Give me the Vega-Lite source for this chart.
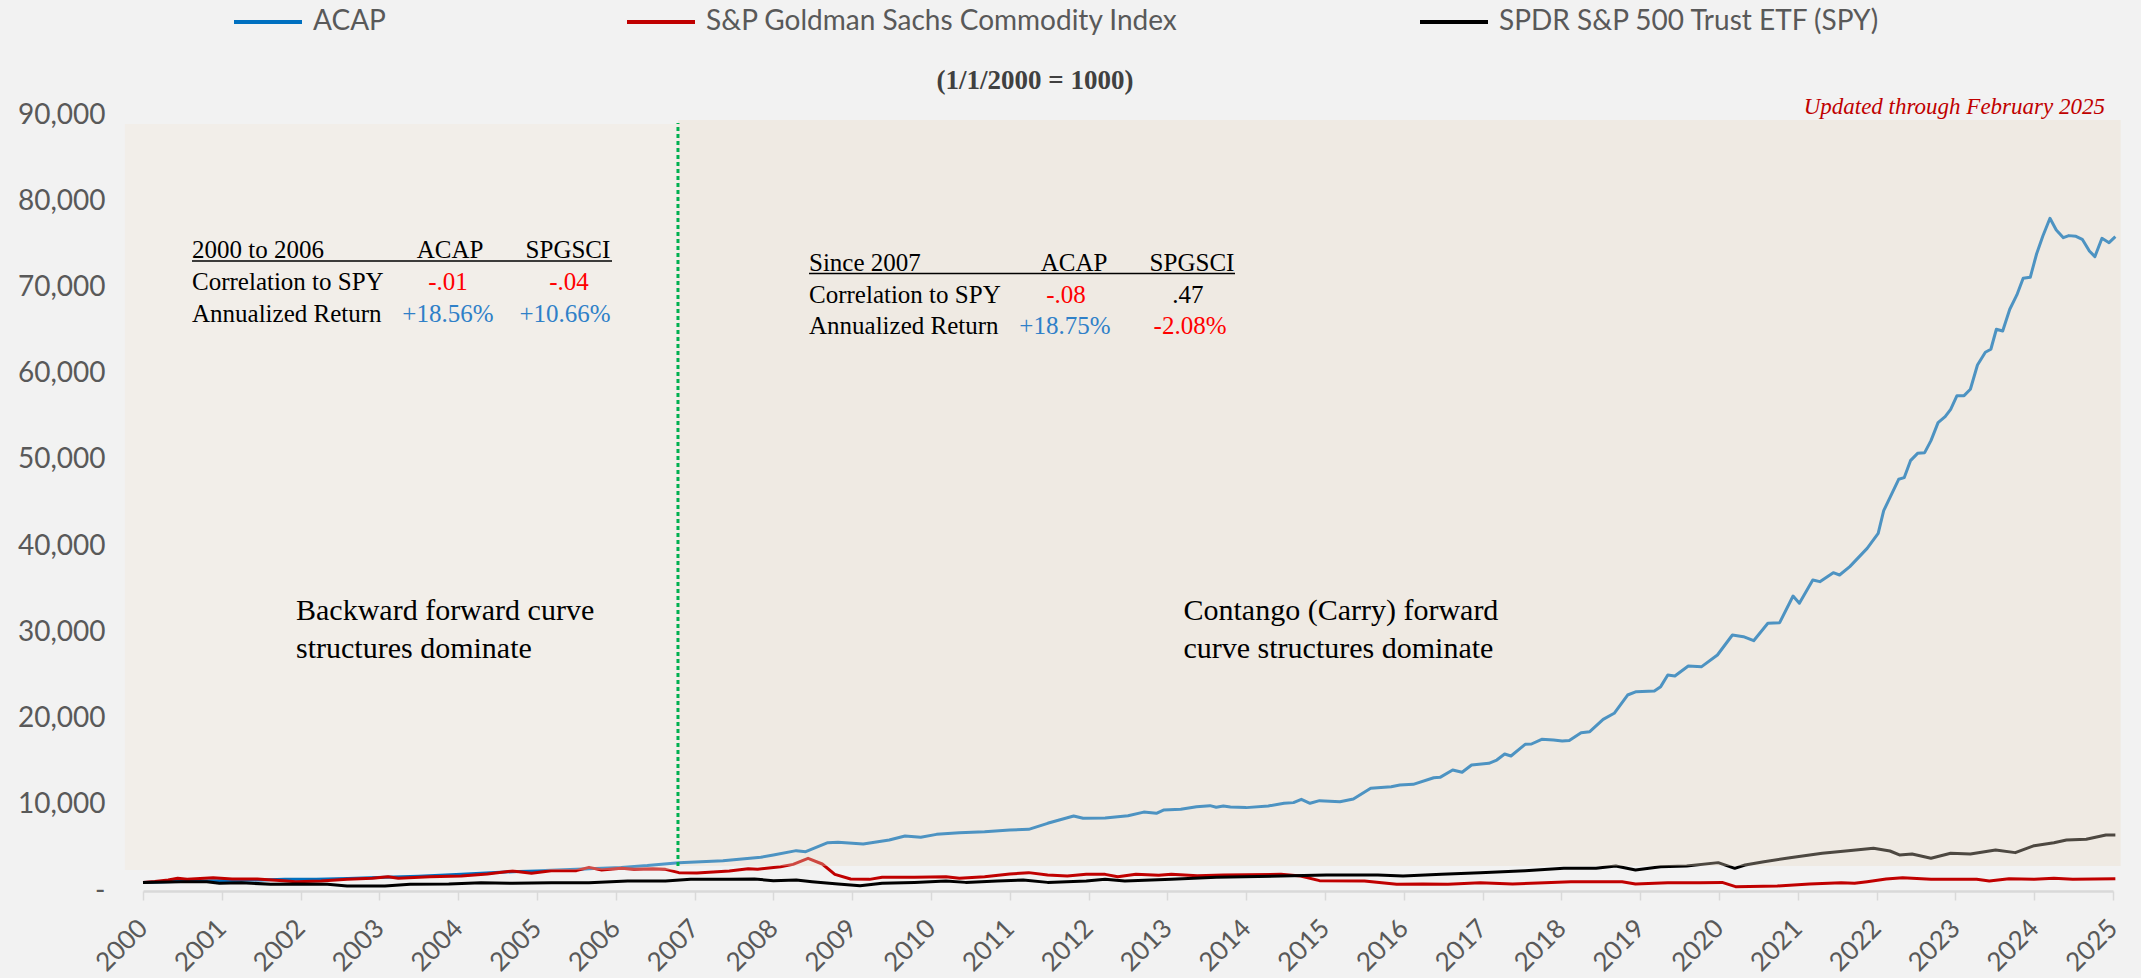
{
  "$schema": "https://vega.github.io/schema/vega-lite/v6.json",
  "width": 1970,
  "height": 776,
  "autosize": {"type": "none"},
  "padding": {"left": 143, "top": 115, "right": 28, "bottom": 87},
  "background": "#F2F2F2",
  "config": {"view": {"stroke": null}, "font": "Lato"},
  "datasets": {
    "series": [
      {"series": "ACAP", "year": 2000.0, "value": 1000},
      {"series": "ACAP", "year": 2000.5, "value": 1120},
      {"series": "ACAP", "year": 2001.0, "value": 1200},
      {"series": "ACAP", "year": 2001.5, "value": 1290},
      {"series": "ACAP", "year": 2001.8, "value": 1350},
      {"series": "ACAP", "year": 2002.2, "value": 1370},
      {"series": "ACAP", "year": 2002.6, "value": 1450},
      {"series": "ACAP", "year": 2003.07, "value": 1590},
      {"series": "ACAP", "year": 2003.5, "value": 1720},
      {"series": "ACAP", "year": 2004.04, "value": 1930},
      {"series": "ACAP", "year": 2004.69, "value": 2240},
      {"series": "ACAP", "year": 2005.1, "value": 2380},
      {"series": "ACAP", "year": 2005.5, "value": 2510},
      {"series": "ACAP", "year": 2006.07, "value": 2740},
      {"series": "ACAP", "year": 2006.4, "value": 2950},
      {"series": "ACAP", "year": 2006.8, "value": 3290},
      {"series": "ACAP", "year": 2007.36, "value": 3520},
      {"series": "ACAP", "year": 2007.84, "value": 3910},
      {"series": "ACAP", "year": 2008.0, "value": 4180},
      {"series": "ACAP", "year": 2008.29, "value": 4680},
      {"series": "ACAP", "year": 2008.41, "value": 4560},
      {"series": "ACAP", "year": 2008.69, "value": 5600},
      {"series": "ACAP", "year": 2008.82, "value": 5640},
      {"series": "ACAP", "year": 2009.14, "value": 5450},
      {"series": "ACAP", "year": 2009.47, "value": 5920},
      {"series": "ACAP", "year": 2009.67, "value": 6380},
      {"series": "ACAP", "year": 2009.87, "value": 6230},
      {"series": "ACAP", "year": 2010.07, "value": 6570},
      {"series": "ACAP", "year": 2010.36, "value": 6760},
      {"series": "ACAP", "year": 2010.68, "value": 6880},
      {"series": "ACAP", "year": 2011.0, "value": 7070},
      {"series": "ACAP", "year": 2011.24, "value": 7150},
      {"series": "ACAP", "year": 2011.48, "value": 7850},
      {"series": "ACAP", "year": 2011.81, "value": 8700},
      {"series": "ACAP", "year": 2011.93, "value": 8430},
      {"series": "ACAP", "year": 2012.21, "value": 8470},
      {"series": "ACAP", "year": 2012.5, "value": 8730},
      {"series": "ACAP", "year": 2012.7, "value": 9150},
      {"series": "ACAP", "year": 2012.86, "value": 9010},
      {"series": "ACAP", "year": 2012.95, "value": 9390},
      {"series": "ACAP", "year": 2013.17, "value": 9470},
      {"series": "ACAP", "year": 2013.37, "value": 9780},
      {"series": "ACAP", "year": 2013.54, "value": 9900},
      {"series": "ACAP", "year": 2013.62, "value": 9710},
      {"series": "ACAP", "year": 2013.71, "value": 9860},
      {"series": "ACAP", "year": 2013.8, "value": 9740},
      {"series": "ACAP", "year": 2014.0, "value": 9670},
      {"series": "ACAP", "year": 2014.28, "value": 9860},
      {"series": "ACAP", "year": 2014.48, "value": 10170},
      {"series": "ACAP", "year": 2014.6, "value": 10250},
      {"series": "ACAP", "year": 2014.7, "value": 10630},
      {"series": "ACAP", "year": 2014.81, "value": 10170},
      {"series": "ACAP", "year": 2014.93, "value": 10480},
      {"series": "ACAP", "year": 2015.19, "value": 10360},
      {"series": "ACAP", "year": 2015.36, "value": 10670},
      {"series": "ACAP", "year": 2015.58, "value": 11910},
      {"series": "ACAP", "year": 2015.84, "value": 12100},
      {"series": "ACAP", "year": 2015.95, "value": 12290},
      {"series": "ACAP", "year": 2016.12, "value": 12370},
      {"series": "ACAP", "year": 2016.38, "value": 13140},
      {"series": "ACAP", "year": 2016.46, "value": 13180},
      {"series": "ACAP", "year": 2016.62, "value": 14030},
      {"series": "ACAP", "year": 2016.74, "value": 13770},
      {"series": "ACAP", "year": 2016.86, "value": 14610},
      {"series": "ACAP", "year": 2017.08, "value": 14810},
      {"series": "ACAP", "year": 2017.18, "value": 15190},
      {"series": "ACAP", "year": 2017.28, "value": 15890},
      {"series": "ACAP", "year": 2017.36, "value": 15660},
      {"series": "ACAP", "year": 2017.54, "value": 17010},
      {"series": "ACAP", "year": 2017.62, "value": 17050},
      {"series": "ACAP", "year": 2017.75, "value": 17590},
      {"series": "ACAP", "year": 2017.9, "value": 17510},
      {"series": "ACAP", "year": 2018.01, "value": 17400},
      {"series": "ACAP", "year": 2018.1, "value": 17450},
      {"series": "ACAP", "year": 2018.25, "value": 18360},
      {"series": "ACAP", "year": 2018.36, "value": 18480},
      {"series": "ACAP", "year": 2018.53, "value": 19910},
      {"series": "ACAP", "year": 2018.67, "value": 20610},
      {"series": "ACAP", "year": 2018.84, "value": 22730},
      {"series": "ACAP", "year": 2018.95, "value": 23120},
      {"series": "ACAP", "year": 2019.18, "value": 23200},
      {"series": "ACAP", "year": 2019.26, "value": 23700},
      {"series": "ACAP", "year": 2019.35, "value": 25050},
      {"series": "ACAP", "year": 2019.44, "value": 24940},
      {"series": "ACAP", "year": 2019.61, "value": 26100},
      {"series": "ACAP", "year": 2019.78, "value": 26020},
      {"series": "ACAP", "year": 2019.98, "value": 27370},
      {"series": "ACAP", "year": 2020.17, "value": 29690},
      {"series": "ACAP", "year": 2020.31, "value": 29500},
      {"series": "ACAP", "year": 2020.44, "value": 29030},
      {"series": "ACAP", "year": 2020.62, "value": 31050},
      {"series": "ACAP", "year": 2020.77, "value": 31120},
      {"series": "ACAP", "year": 2020.94, "value": 34210},
      {"series": "ACAP", "year": 2021.02, "value": 33370},
      {"series": "ACAP", "year": 2021.19, "value": 36070},
      {"series": "ACAP", "year": 2021.28, "value": 35880},
      {"series": "ACAP", "year": 2021.45, "value": 36920},
      {"series": "ACAP", "year": 2021.53, "value": 36650},
      {"series": "ACAP", "year": 2021.66, "value": 37620},
      {"series": "ACAP", "year": 2021.88, "value": 39740},
      {"series": "ACAP", "year": 2022.02, "value": 41480},
      {"series": "ACAP", "year": 2022.09, "value": 44110},
      {"series": "ACAP", "year": 2022.28, "value": 47750},
      {"series": "ACAP", "year": 2022.35, "value": 47940},
      {"series": "ACAP", "year": 2022.43, "value": 49910},
      {"series": "ACAP", "year": 2022.52, "value": 50760},
      {"series": "ACAP", "year": 2022.61, "value": 50840},
      {"series": "ACAP", "year": 2022.69, "value": 52230},
      {"series": "ACAP", "year": 2022.78, "value": 54320},
      {"series": "ACAP", "year": 2022.87, "value": 55010},
      {"series": "ACAP", "year": 2022.94, "value": 55870},
      {"series": "ACAP", "year": 2023.02, "value": 57450},
      {"series": "ACAP", "year": 2023.11, "value": 57450},
      {"series": "ACAP", "year": 2023.19, "value": 58190},
      {"series": "ACAP", "year": 2023.28, "value": 61010},
      {"series": "ACAP", "year": 2023.38, "value": 62480},
      {"series": "ACAP", "year": 2023.45, "value": 62830},
      {"series": "ACAP", "year": 2023.52, "value": 65150},
      {"series": "ACAP", "year": 2023.6, "value": 64950},
      {"series": "ACAP", "year": 2023.69, "value": 67470},
      {"series": "ACAP", "year": 2023.78, "value": 69130},
      {"series": "ACAP", "year": 2023.86, "value": 71060},
      {"series": "ACAP", "year": 2023.95, "value": 71180},
      {"series": "ACAP", "year": 2024.03, "value": 73880},
      {"series": "ACAP", "year": 2024.11, "value": 75970},
      {"series": "ACAP", "year": 2024.2, "value": 78020},
      {"series": "ACAP", "year": 2024.28, "value": 76660},
      {"series": "ACAP", "year": 2024.37, "value": 75770},
      {"series": "ACAP", "year": 2024.44, "value": 76010},
      {"series": "ACAP", "year": 2024.53, "value": 75930},
      {"series": "ACAP", "year": 2024.61, "value": 75580},
      {"series": "ACAP", "year": 2024.7, "value": 74230},
      {"series": "ACAP", "year": 2024.77, "value": 73570},
      {"series": "ACAP", "year": 2024.86, "value": 75700},
      {"series": "ACAP", "year": 2024.95, "value": 75190},
      {"series": "ACAP", "year": 2025.03, "value": 75890},
      {"series": "S&P Goldman Sachs Commodity Index", "year": 2000.0, "value": 1000},
      {"series": "S&P Goldman Sachs Commodity Index", "year": 2000.15, "value": 1100},
      {"series": "S&P Goldman Sachs Commodity Index", "year": 2000.32, "value": 1280},
      {"series": "S&P Goldman Sachs Commodity Index", "year": 2000.44, "value": 1470},
      {"series": "S&P Goldman Sachs Commodity Index", "year": 2000.56, "value": 1350},
      {"series": "S&P Goldman Sachs Commodity Index", "year": 2000.89, "value": 1550},
      {"series": "S&P Goldman Sachs Commodity Index", "year": 2001.13, "value": 1390},
      {"series": "S&P Goldman Sachs Commodity Index", "year": 2001.45, "value": 1390},
      {"series": "S&P Goldman Sachs Commodity Index", "year": 2001.78, "value": 1200},
      {"series": "S&P Goldman Sachs Commodity Index", "year": 2001.94, "value": 1080},
      {"series": "S&P Goldman Sachs Commodity Index", "year": 2002.26, "value": 1160},
      {"series": "S&P Goldman Sachs Commodity Index", "year": 2002.59, "value": 1350},
      {"series": "S&P Goldman Sachs Commodity Index", "year": 2002.91, "value": 1470},
      {"series": "S&P Goldman Sachs Commodity Index", "year": 2003.11, "value": 1660},
      {"series": "S&P Goldman Sachs Commodity Index", "year": 2003.24, "value": 1470},
      {"series": "S&P Goldman Sachs Commodity Index", "year": 2003.64, "value": 1660},
      {"series": "S&P Goldman Sachs Commodity Index", "year": 2004.04, "value": 1740},
      {"series": "S&P Goldman Sachs Commodity Index", "year": 2004.37, "value": 1970},
      {"series": "S&P Goldman Sachs Commodity Index", "year": 2004.69, "value": 2320},
      {"series": "S&P Goldman Sachs Commodity Index", "year": 2004.93, "value": 2050},
      {"series": "S&P Goldman Sachs Commodity Index", "year": 2005.18, "value": 2360},
      {"series": "S&P Goldman Sachs Commodity Index", "year": 2005.5, "value": 2360},
      {"series": "S&P Goldman Sachs Commodity Index", "year": 2005.66, "value": 2740},
      {"series": "S&P Goldman Sachs Commodity Index", "year": 2005.82, "value": 2440},
      {"series": "S&P Goldman Sachs Commodity Index", "year": 2006.07, "value": 2630},
      {"series": "S&P Goldman Sachs Commodity Index", "year": 2006.23, "value": 2510},
      {"series": "S&P Goldman Sachs Commodity Index", "year": 2006.47, "value": 2590},
      {"series": "S&P Goldman Sachs Commodity Index", "year": 2006.63, "value": 2510},
      {"series": "S&P Goldman Sachs Commodity Index", "year": 2006.8, "value": 2130},
      {"series": "S&P Goldman Sachs Commodity Index", "year": 2007.03, "value": 2090},
      {"series": "S&P Goldman Sachs Commodity Index", "year": 2007.44, "value": 2320},
      {"series": "S&P Goldman Sachs Commodity Index", "year": 2007.68, "value": 2590},
      {"series": "S&P Goldman Sachs Commodity Index", "year": 2007.8, "value": 2510},
      {"series": "S&P Goldman Sachs Commodity Index", "year": 2008.09, "value": 2820},
      {"series": "S&P Goldman Sachs Commodity Index", "year": 2008.25, "value": 3090},
      {"series": "S&P Goldman Sachs Commodity Index", "year": 2008.44, "value": 3790},
      {"series": "S&P Goldman Sachs Commodity Index", "year": 2008.62, "value": 3130},
      {"series": "S&P Goldman Sachs Commodity Index", "year": 2008.78, "value": 1930},
      {"series": "S&P Goldman Sachs Commodity Index", "year": 2008.98, "value": 1390},
      {"series": "S&P Goldman Sachs Commodity Index", "year": 2009.22, "value": 1350},
      {"series": "S&P Goldman Sachs Commodity Index", "year": 2009.38, "value": 1590},
      {"series": "S&P Goldman Sachs Commodity Index", "year": 2009.79, "value": 1590},
      {"series": "S&P Goldman Sachs Commodity Index", "year": 2010.19, "value": 1660},
      {"series": "S&P Goldman Sachs Commodity Index", "year": 2010.36, "value": 1470},
      {"series": "S&P Goldman Sachs Commodity Index", "year": 2010.68, "value": 1660},
      {"series": "S&P Goldman Sachs Commodity Index", "year": 2011.0, "value": 1970},
      {"series": "S&P Goldman Sachs Commodity Index", "year": 2011.24, "value": 2130},
      {"series": "S&P Goldman Sachs Commodity Index", "year": 2011.48, "value": 1860},
      {"series": "S&P Goldman Sachs Commodity Index", "year": 2011.73, "value": 1740},
      {"series": "S&P Goldman Sachs Commodity Index", "year": 2011.97, "value": 1930},
      {"series": "S&P Goldman Sachs Commodity Index", "year": 2012.21, "value": 1930},
      {"series": "S&P Goldman Sachs Commodity Index", "year": 2012.37, "value": 1660},
      {"series": "S&P Goldman Sachs Commodity Index", "year": 2012.6, "value": 1930},
      {"series": "S&P Goldman Sachs Commodity Index", "year": 2012.89, "value": 1820},
      {"series": "S&P Goldman Sachs Commodity Index", "year": 2013.05, "value": 1930},
      {"series": "S&P Goldman Sachs Commodity Index", "year": 2013.38, "value": 1780},
      {"series": "S&P Goldman Sachs Commodity Index", "year": 2013.71, "value": 1860},
      {"series": "S&P Goldman Sachs Commodity Index", "year": 2014.44, "value": 1930},
      {"series": "S&P Goldman Sachs Commodity Index", "year": 2014.69, "value": 1740},
      {"series": "S&P Goldman Sachs Commodity Index", "year": 2014.93, "value": 1200},
      {"series": "S&P Goldman Sachs Commodity Index", "year": 2015.5, "value": 1160},
      {"series": "S&P Goldman Sachs Commodity Index", "year": 2015.91, "value": 770},
      {"series": "S&P Goldman Sachs Commodity Index", "year": 2016.24, "value": 810},
      {"series": "S&P Goldman Sachs Commodity Index", "year": 2016.56, "value": 770},
      {"series": "S&P Goldman Sachs Commodity Index", "year": 2016.97, "value": 970},
      {"series": "S&P Goldman Sachs Commodity Index", "year": 2017.38, "value": 810},
      {"series": "S&P Goldman Sachs Commodity Index", "year": 2017.79, "value": 970},
      {"series": "S&P Goldman Sachs Commodity Index", "year": 2018.12, "value": 1080},
      {"series": "S&P Goldman Sachs Commodity Index", "year": 2018.77, "value": 1080},
      {"series": "S&P Goldman Sachs Commodity Index", "year": 2018.94, "value": 810},
      {"series": "S&P Goldman Sachs Commodity Index", "year": 2019.35, "value": 970},
      {"series": "S&P Goldman Sachs Commodity Index", "year": 2019.76, "value": 970},
      {"series": "S&P Goldman Sachs Commodity Index", "year": 2020.04, "value": 1000},
      {"series": "S&P Goldman Sachs Commodity Index", "year": 2020.21, "value": 500},
      {"series": "S&P Goldman Sachs Commodity Index", "year": 2020.74, "value": 580},
      {"series": "S&P Goldman Sachs Commodity Index", "year": 2021.15, "value": 810},
      {"series": "S&P Goldman Sachs Commodity Index", "year": 2021.55, "value": 970},
      {"series": "S&P Goldman Sachs Commodity Index", "year": 2021.72, "value": 890},
      {"series": "S&P Goldman Sachs Commodity Index", "year": 2021.88, "value": 1080},
      {"series": "S&P Goldman Sachs Commodity Index", "year": 2022.12, "value": 1390},
      {"series": "S&P Goldman Sachs Commodity Index", "year": 2022.33, "value": 1550},
      {"series": "S&P Goldman Sachs Commodity Index", "year": 2022.69, "value": 1350},
      {"series": "S&P Goldman Sachs Commodity Index", "year": 2023.27, "value": 1350},
      {"series": "S&P Goldman Sachs Commodity Index", "year": 2023.43, "value": 1160},
      {"series": "S&P Goldman Sachs Commodity Index", "year": 2023.68, "value": 1430},
      {"series": "S&P Goldman Sachs Commodity Index", "year": 2024.0, "value": 1350},
      {"series": "S&P Goldman Sachs Commodity Index", "year": 2024.25, "value": 1470},
      {"series": "S&P Goldman Sachs Commodity Index", "year": 2024.49, "value": 1350},
      {"series": "S&P Goldman Sachs Commodity Index", "year": 2025.03, "value": 1430},
      {"series": "SPDR S&P 500 Trust ETF (SPY)", "year": 2000.0, "value": 1000},
      {"series": "SPDR S&P 500 Trust ETF (SPY)", "year": 2000.48, "value": 1080},
      {"series": "SPDR S&P 500 Trust ETF (SPY)", "year": 2000.81, "value": 1080},
      {"series": "SPDR S&P 500 Trust ETF (SPY)", "year": 2000.97, "value": 890},
      {"series": "SPDR S&P 500 Trust ETF (SPY)", "year": 2001.25, "value": 970},
      {"series": "SPDR S&P 500 Trust ETF (SPY)", "year": 2001.62, "value": 770},
      {"series": "SPDR S&P 500 Trust ETF (SPY)", "year": 2001.94, "value": 810},
      {"series": "SPDR S&P 500 Trust ETF (SPY)", "year": 2002.34, "value": 770},
      {"series": "SPDR S&P 500 Trust ETF (SPY)", "year": 2002.59, "value": 580},
      {"series": "SPDR S&P 500 Trust ETF (SPY)", "year": 2003.07, "value": 580},
      {"series": "SPDR S&P 500 Trust ETF (SPY)", "year": 2003.39, "value": 770},
      {"series": "SPDR S&P 500 Trust ETF (SPY)", "year": 2003.88, "value": 810},
      {"series": "SPDR S&P 500 Trust ETF (SPY)", "year": 2004.29, "value": 970},
      {"series": "SPDR S&P 500 Trust ETF (SPY)", "year": 2004.69, "value": 890},
      {"series": "SPDR S&P 500 Trust ETF (SPY)", "year": 2005.18, "value": 970},
      {"series": "SPDR S&P 500 Trust ETF (SPY)", "year": 2005.66, "value": 970},
      {"series": "SPDR S&P 500 Trust ETF (SPY)", "year": 2006.15, "value": 1160},
      {"series": "SPDR S&P 500 Trust ETF (SPY)", "year": 2006.63, "value": 1160},
      {"series": "SPDR S&P 500 Trust ETF (SPY)", "year": 2006.95, "value": 1350},
      {"series": "SPDR S&P 500 Trust ETF (SPY)", "year": 2007.44, "value": 1350},
      {"series": "SPDR S&P 500 Trust ETF (SPY)", "year": 2007.76, "value": 1390},
      {"series": "SPDR S&P 500 Trust ETF (SPY)", "year": 2008.0, "value": 1200},
      {"series": "SPDR S&P 500 Trust ETF (SPY)", "year": 2008.29, "value": 1280},
      {"series": "SPDR S&P 500 Trust ETF (SPY)", "year": 2008.49, "value": 1080},
      {"series": "SPDR S&P 500 Trust ETF (SPY)", "year": 2008.82, "value": 810},
      {"series": "SPDR S&P 500 Trust ETF (SPY)", "year": 2009.1, "value": 620},
      {"series": "SPDR S&P 500 Trust ETF (SPY)", "year": 2009.38, "value": 890},
      {"series": "SPDR S&P 500 Trust ETF (SPY)", "year": 2009.79, "value": 1000},
      {"series": "SPDR S&P 500 Trust ETF (SPY)", "year": 2010.19, "value": 1160},
      {"series": "SPDR S&P 500 Trust ETF (SPY)", "year": 2010.44, "value": 1000},
      {"series": "SPDR S&P 500 Trust ETF (SPY)", "year": 2010.84, "value": 1160},
      {"series": "SPDR S&P 500 Trust ETF (SPY)", "year": 2011.17, "value": 1280},
      {"series": "SPDR S&P 500 Trust ETF (SPY)", "year": 2011.48, "value": 1000},
      {"series": "SPDR S&P 500 Trust ETF (SPY)", "year": 2011.97, "value": 1160},
      {"series": "SPDR S&P 500 Trust ETF (SPY)", "year": 2012.21, "value": 1350},
      {"series": "SPDR S&P 500 Trust ETF (SPY)", "year": 2012.46, "value": 1160},
      {"series": "SPDR S&P 500 Trust ETF (SPY)", "year": 2013.05, "value": 1350},
      {"series": "SPDR S&P 500 Trust ETF (SPY)", "year": 2013.62, "value": 1590},
      {"series": "SPDR S&P 500 Trust ETF (SPY)", "year": 2014.44, "value": 1740},
      {"series": "SPDR S&P 500 Trust ETF (SPY)", "year": 2015.02, "value": 1860},
      {"series": "SPDR S&P 500 Trust ETF (SPY)", "year": 2015.67, "value": 1860},
      {"series": "SPDR S&P 500 Trust ETF (SPY)", "year": 2015.99, "value": 1740},
      {"series": "SPDR S&P 500 Trust ETF (SPY)", "year": 2016.48, "value": 1930},
      {"series": "SPDR S&P 500 Trust ETF (SPY)", "year": 2016.97, "value": 2130},
      {"series": "SPDR S&P 500 Trust ETF (SPY)", "year": 2017.54, "value": 2360},
      {"series": "SPDR S&P 500 Trust ETF (SPY)", "year": 2018.03, "value": 2630},
      {"series": "SPDR S&P 500 Trust ETF (SPY)", "year": 2018.44, "value": 2630},
      {"series": "SPDR S&P 500 Trust ETF (SPY)", "year": 2018.69, "value": 2900},
      {"series": "SPDR S&P 500 Trust ETF (SPY)", "year": 2018.94, "value": 2440},
      {"series": "SPDR S&P 500 Trust ETF (SPY)", "year": 2019.26, "value": 2820},
      {"series": "SPDR S&P 500 Trust ETF (SPY)", "year": 2019.59, "value": 2900},
      {"series": "SPDR S&P 500 Trust ETF (SPY)", "year": 2019.99, "value": 3290},
      {"series": "SPDR S&P 500 Trust ETF (SPY)", "year": 2020.2, "value": 2630},
      {"series": "SPDR S&P 500 Trust ETF (SPY)", "year": 2020.33, "value": 3010},
      {"series": "SPDR S&P 500 Trust ETF (SPY)", "year": 2020.57, "value": 3400},
      {"series": "SPDR S&P 500 Trust ETF (SPY)", "year": 2020.9, "value": 3860},
      {"series": "SPDR S&P 500 Trust ETF (SPY)", "year": 2021.31, "value": 4370},
      {"series": "SPDR S&P 500 Trust ETF (SPY)", "year": 2021.64, "value": 4670},
      {"series": "SPDR S&P 500 Trust ETF (SPY)", "year": 2021.96, "value": 4950},
      {"series": "SPDR S&P 500 Trust ETF (SPY)", "year": 2022.17, "value": 4640},
      {"series": "SPDR S&P 500 Trust ETF (SPY)", "year": 2022.29, "value": 4180},
      {"series": "SPDR S&P 500 Trust ETF (SPY)", "year": 2022.45, "value": 4290},
      {"series": "SPDR S&P 500 Trust ETF (SPY)", "year": 2022.69, "value": 3790},
      {"series": "SPDR S&P 500 Trust ETF (SPY)", "year": 2022.94, "value": 4370},
      {"series": "SPDR S&P 500 Trust ETF (SPY)", "year": 2023.19, "value": 4290},
      {"series": "SPDR S&P 500 Trust ETF (SPY)", "year": 2023.51, "value": 4760},
      {"series": "SPDR S&P 500 Trust ETF (SPY)", "year": 2023.76, "value": 4450},
      {"series": "SPDR S&P 500 Trust ETF (SPY)", "year": 2024.0, "value": 5260},
      {"series": "SPDR S&P 500 Trust ETF (SPY)", "year": 2024.25, "value": 5600},
      {"series": "SPDR S&P 500 Trust ETF (SPY)", "year": 2024.41, "value": 5920},
      {"series": "SPDR S&P 500 Trust ETF (SPY)", "year": 2024.66, "value": 6000},
      {"series": "SPDR S&P 500 Trust ETF (SPY)", "year": 2024.91, "value": 6500},
      {"series": "SPDR S&P 500 Trust ETF (SPY)", "year": 2025.03, "value": 6500}
    ],
    "shade": [
      {"region": "Backwardation era", "year": 1999.77, "year2": 2006.789, "value": 2436, "value2": 88958},
      {"region": "Contango era", "year": 2006.789, "year2": 2025.097, "value": 2900, "value2": 89422}
    ],
    "divider": [
      {"year": 2006.789, "value": 2900, "value2": 89075}
    ],
    "underlines": [
      {"year": 2000.622, "year2": 2005.952, "value": 73070},
      {"year": 2008.452, "year2": 2013.858, "value": 71619}
    ],
    "rowLabels": [
      {"year": 2000.622, "value": 73420, "label": "2000 to 2006"},
      {"year": 2000.622, "value": 69705, "label": "Correlation to SPY"},
      {"year": 2000.622, "value": 65994, "label": "Annualized Return"},
      {"year": 2008.452, "value": 71909, "label": "Since 2007"},
      {"year": 2008.452, "value": 68198, "label": "Correlation to SPY"},
      {"year": 2008.452, "value": 64602, "label": "Annualized Return"}
    ],
    "neutralCells": [
      {"year": 2003.896, "value": 73420, "label": "ACAP"},
      {"year": 2005.393, "value": 73420, "label": "SPGSCI"},
      {"year": 2011.815, "value": 71909, "label": "ACAP"},
      {"year": 2013.312, "value": 71909, "label": "SPGSCI"},
      {"year": 2013.261, "value": 68198, "label": ".47"}
    ],
    "negativeCells": [
      {"year": 2003.87, "value": 69705, "label": "-.01"},
      {"year": 2005.406, "value": 69705, "label": "-.04"},
      {"year": 2011.713, "value": 68198, "label": "-.08"},
      {"year": 2013.287, "value": 64602, "label": "-2.08%"}
    ],
    "positiveCells": [
      {"year": 2003.87, "value": 65994, "label": "+18.56%"},
      {"year": 2005.355, "value": 65994, "label": "+10.66%"},
      {"year": 2011.7, "value": 64602, "label": "+18.75%"}
    ],
    "notes": [
      {"year": 2001.942, "value": 31431, "label": ["Backward forward curve", "structures dominate"]},
      {"year": 2013.204, "value": 31431, "label": ["Contango (Carry) forward", "curve structures dominate"]}
    ],
    "updated": [
      {"year": 2024.898, "value": 90120, "label": "Updated through February 2025"}
    ],
    "heading": [
      {"year": 2011.32, "value": 93018, "label": "(1/1/2000 = 1000)"}
    ]
  },
  "encoding": {
    "x": {
      "field": "year",
      "type": "quantitative",
      "title": null,
      "scale": {"domain": [2000, 2025], "nice": false, "zero": false},
      "axis": {
        "values": [2000, 2001, 2002, 2003, 2004, 2005, 2006, 2007, 2008, 2009, 2010, 2011, 2012, 2013, 2014, 2015, 2016, 2017, 2018, 2019, 2020, 2021, 2022, 2023, 2024, 2025],
        "format": "d",
        "labelAngle": -45,
        "labelAlign": "right",
        "labelBaseline": "middle",
        "labelOverlap": false,
        "labelFlush": false,
        "labelFont": "Lato",
        "labelFontSize": 26,
        "labelColor": "#595959",
        "labelPadding": 24,
        "domainColor": "#D9D9D9",
        "domainWidth": 2.5,
        "tickColor": "#D9D9D9",
        "tickWidth": 1.5,
        "tickSize": 9,
        "grid": false
      }
    },
    "y": {
      "field": "value",
      "type": "quantitative",
      "title": null,
      "scale": {"domain": [0, 90000], "nice": false, "zero": true},
      "axis": {
        "values": [0, 10000, 20000, 30000, 40000, 50000, 60000, 70000, 80000, 90000],
        "labelExpr": "datum.value == 0 ? '-' : format(datum.value, ',')",
        "labelFont": "Lato",
        "labelFontSize": 28,
        "labelColor": "#595959",
        "labelPadding": 38,
        "domain": false,
        "ticks": false,
        "grid": false
      }
    }
  },
  "layer": [
    {
      "data": {"name": "series"},
      "mark": {"type": "line", "strokeWidth": 3, "strokeJoin": "round"},
      "encoding": {
        "color": {
          "field": "series",
          "type": "nominal",
          "scale": {
            "domain": ["ACAP", "S&P Goldman Sachs Commodity Index", "SPDR S&P 500 Trust ETF (SPY)"],
            "range": ["#0070C0", "#C00000", "#000000"]
          },
          "legend": {
            "title": null,
            "orient": "none",
            "legendX": 89,
            "legendY": -129,
            "direction": "horizontal",
            "columns": 3,
            "gridAlign": "each",
            "columnPadding": 233,
            "symbolType": "stroke",
            "symbolSize": 4624,
            "symbolStrokeWidth": 4,
            "labelOffset": 9,
            "labelFont": "Lato",
            "labelFontSize": 28,
            "labelColor": "#595959",
            "labelLimit": 0,
            "padding": 0
          }
        }
      }
    },
    {
      "data": {"name": "shade"},
      "mark": {"type": "rect", "fillOpacity": 0.33},
      "encoding": {
        "x2": {"field": "year2"},
        "y2": {"field": "value2"},
        "fill": {
          "field": "region",
          "type": "nominal",
          "scale": {"domain": ["Backwardation era", "Contango era"], "range": ["#F2E6D7", "#E9DAC5"]},
          "legend": null
        }
      }
    },
    {
      "data": {"name": "divider"},
      "mark": {"type": "rule", "color": "#00B050", "strokeWidth": 3, "strokeDash": [4, 3]},
      "encoding": {"y2": {"field": "value2"}}
    },
    {
      "data": {"name": "underlines"},
      "mark": {"type": "rule", "color": "#000000", "strokeWidth": 1.5},
      "encoding": {"x2": {"field": "year2"}}
    },
    {
      "data": {"name": "rowLabels"},
      "mark": {"type": "text", "font": "Liberation Serif", "fontSize": 25, "align": "left", "baseline": "alphabetic", "color": "#000000"},
      "encoding": {"text": {"field": "label"}}
    },
    {
      "data": {"name": "neutralCells"},
      "mark": {"type": "text", "font": "Liberation Serif", "fontSize": 25, "align": "center", "baseline": "alphabetic", "color": "#000000"},
      "encoding": {"text": {"field": "label"}}
    },
    {
      "data": {"name": "negativeCells"},
      "mark": {"type": "text", "font": "Liberation Serif", "fontSize": 25, "align": "center", "baseline": "alphabetic", "color": "#FF0000"},
      "encoding": {"text": {"field": "label"}}
    },
    {
      "data": {"name": "positiveCells"},
      "mark": {"type": "text", "font": "Liberation Serif", "fontSize": 25, "align": "center", "baseline": "alphabetic", "color": "#2F80C8"},
      "encoding": {"text": {"field": "label"}}
    },
    {
      "data": {"name": "notes"},
      "mark": {"type": "text", "font": "Liberation Serif", "fontSize": 30, "lineHeight": 38, "align": "left", "baseline": "alphabetic", "color": "#000000"},
      "encoding": {"text": {"field": "label"}}
    },
    {
      "data": {"name": "updated"},
      "mark": {"type": "text", "font": "Liberation Serif", "fontSize": 23, "fontStyle": "italic", "align": "right", "baseline": "alphabetic", "color": "#C00000"},
      "encoding": {"text": {"field": "label"}}
    },
    {
      "data": {"name": "heading"},
      "mark": {"type": "text", "font": "Liberation Serif", "fontSize": 27, "fontWeight": "bold", "align": "center", "baseline": "alphabetic", "color": "#404040"},
      "encoding": {"text": {"field": "label"}}
    }
  ]
}
